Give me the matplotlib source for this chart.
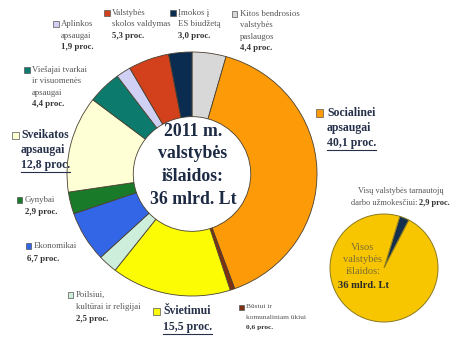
import matplotlib
matplotlib.use("Agg")
import matplotlib.pyplot as plt
from matplotlib.patches import Rectangle
from matplotlib.lines import Line2D

# ---------------- data ----------------
categories = [
    "Kitos bendrosios valstybės paslaugos",
    "Socialinei apsaugai",
    "Būstui ir komunaliniam ūkiui",
    "Švietimui",
    "Poilsiui, kultūrai ir religijai",
    "Ekonomikai",
    "Gynybai",
    "Sveikatos apsaugai",
    "Viešajai tvarkai ir visuomenės apsaugai",
    "Aplinkos apsaugai",
    "Valstybės skolos valdymas",
    "Įmokos į ES biudžetą",
]
values = [4.4, 40.1, 0.6, 15.5, 2.5, 6.7, 2.9, 12.8, 4.4, 1.9, 5.3, 3.0]
colors = ["#d8d8d8", "#fd9a08", "#7f3010", "#fcfc05", "#cdeedb", "#3366e6",
          "#197a2a", "#ffffd6", "#0c7a6c", "#d0d0f5", "#d2401c", "#0a2c50"]
label_lines = [
    ["Kitos bendrosios", "valstybės", "paslaugos"],
    ["Socialinei", "apsaugai"],
    ["Būstui ir", "komunaliniam ūkiui"],
    ["Švietimui"],
    ["Poilsiui,", "kultūrai ir religijai"],
    ["Ekonomikai"],
    ["Gynybai"],
    ["Sveikatos", "apsaugai"],
    ["Viešajai tvarkai", "ir visuomenės", "apsaugai"],
    ["Aplinkos", "apsaugai"],
    ["Valstybės", "skolos valdymas"],
    ["Įmokos į", "ES biudžetą"],
]
center_lines = ["2011 m.", "valstybės", "išlaidos:", "36 mlrd. Lt"]

small_values = [2.9, 97.1]
small_colors = ["#14304f", "#f7c600"]
small_lines = ["Visos", "valstybės", "išlaidos:"]
small_total = "36 mlrd. Lt"
salary_lines = ["Visų valstybės tarnautojų", "darbo užmokesčiui: "]

# ---------------- layout (pixels) ----------------
W, H = 460, 340
# sq_x, sq_y, text_x, y0, dy, style, pct_x
layout = [
    (234.5, 14, 240, 14, 11.3, "small", 240),
    (319.5, 113, 327, 113, 15, "big", 327),
    (241.5, 307, 246, 307, 10.5, "tiny", 246),
    (156.5, 311, 163, 311, 16, "big", 163),
    (70.5, 295, 76, 295, 12, "small", 76),
    (28.5, 246, 34, 246, 13, "small", 27),
    (19.5, 200, 25, 200, 12, "small", 25),
    (15, 135, 21, 135, 15, "big", 21),
    (27, 70, 32, 70, 11.3, "small", 32),
    (56, 24, 61, 24, 11.5, "small", 61),
    (107, 13, 112, 13, 11.5, "small", 112),
    (173, 13, 178, 13, 11.5, "small", 178),
]
styles = {
    "small": dict(fs=6.3, sq=5.5, name_color="#555555", pct_color="#333333", name_bold=False),
    "tiny": dict(fs=5.3, sq=5, name_color="#555555", pct_color="#333333", name_bold=False),
    "big": dict(fs=8.5, sq=7, name_color="#26304a", pct_color="#26304a", name_bold=True),
}

FONT = "Liberation Serif"
plt.rcParams["font.family"] = [FONT, "DejaVu Serif"]

fig = plt.figure(figsize=(W / 100, H / 100), dpi=100)
fig.patch.set_facecolor("white")


def fx(x):
    return x / W


def fy(y):
    return 1 - y / H


# ---------------- donut ----------------
cx, cy, rx, ry = 192, 174, 125, 122
ax = fig.add_axes([fx(cx - rx), fy(cy + ry), 2 * rx / W, 2 * ry / H])
ax.pie(values, colors=colors, startangle=90, counterclock=False,
       wedgeprops=dict(width=0.53, edgecolor="#4a4030", linewidth=0.6))
ax.set_xlim(-1, 1)
ax.set_ylim(-1, 1)
ax.set_aspect("auto")
ax.axis("off")

for i, line in enumerate(center_lines):
    fig.text(fx(193), fy(131 + i * 22.7), line, ha="center", va="center",
             fontsize=12.8, fontweight="bold", color="#1d2a44")

# ---------------- labels ----------------
underline_targets = []
for i, (sqx, sqy, tx, y0, dy, st, px) in enumerate(layout):
    s = styles[st]
    sq = s["sq"]
    fig.patches.append(Rectangle((fx(sqx - sq / 2), fy(sqy + sq / 2)), sq / W, sq / H,
                                 transform=fig.transFigure, facecolor=colors[i],
                                 edgecolor="#555555", linewidth=0.5))
    lines = label_lines[i]
    for j, line in enumerate(lines):
        fig.text(fx(tx), fy(y0 + j * dy), line, ha="left", va="center",
                 fontsize=s["fs"], color=s["name_color"],
                 fontweight="bold" if s["name_bold"] else "normal")
    pct = f"{values[i]:.1f}".replace(".", ",") + " proc."
    t = fig.text(fx(px), fy(y0 + len(lines) * dy), pct, ha="left", va="center",
                 fontsize=s["fs"], color=s["pct_color"], fontweight="bold")
    if st == "big":
        underline_targets.append(t)

# ---------------- small pie ----------------
scx, scy, sr = 384, 268, 54
ax2 = fig.add_axes([fx(scx - sr), fy(scy + sr), 2 * sr / W, 2 * sr / H])
ax2.pie(small_values, colors=small_colors, startangle=73, counterclock=False,
        wedgeprops=dict(edgecolor="#8a7a20", linewidth=0.7))
ax2.set_xlim(-1, 1)
ax2.set_ylim(-1, 1)
ax2.set_aspect("auto")
ax2.axis("off")

for j, line in enumerate(small_lines):
    fig.text(fx(363), fy(247 + j * 12.5), line, ha="center", va="center",
             fontsize=7.6, color="#7d6d35")
fig.text(fx(364), fy(285), small_total, ha="center", va="center",
         fontsize=7.6, fontweight="bold", color="#2a2a2a")

fig.text(fx(444), fy(191), salary_lines[0], ha="right", va="center",
         fontsize=6, color="#555555")
bold_part = f"{small_values[0]:.1f}".replace(".", ",") + " proc."
tb = fig.text(fx(450), fy(203), bold_part, ha="right", va="center",
              fontsize=6, fontweight="bold", color="#333333")

renderer = fig.canvas.get_renderer()
bb = tb.get_window_extent(renderer)
fig.text(bb.x0 / W, fy(203), salary_lines[1], ha="right", va="center",
         fontsize=6, color="#555555")

for t in underline_targets:
    b = t.get_window_extent(renderer)
    yline = b.y0 - 0.5
    fig.add_artist(Line2D([b.x0 / W, b.x1 / W], [yline / H, yline / H],
                          transform=fig.transFigure, color="#26304a", linewidth=0.8))

fig.savefig("out.png", dpi=100, facecolor="white")
